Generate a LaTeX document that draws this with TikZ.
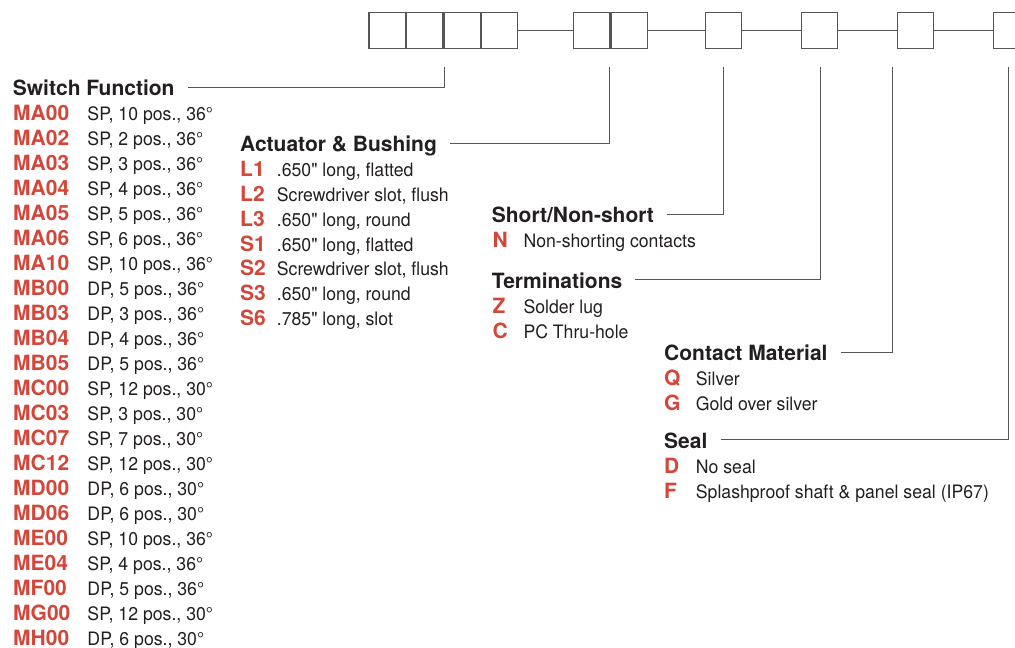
\documentclass[tikz,border=0pt]{standalone}
\usepackage{fontspec}
\setmainfont{TeX Gyre Heros}
\newfontfamily\descfont[FakeStretch=0.955]{TeX Gyre Heros}
\usepackage{tikz}
\usetikzlibrary{calc}
\definecolor{codered}{HTML}{D3473A}
\definecolor{inkgray}{HTML}{231F20}
\definecolor{linegray}{HTML}{555555}

\begin{document}
\begin{tikzpicture}[x=1pt, y=-1pt,
		digit/.style={draw=linegray, line width=1.3pt, minimum width=36.2pt, minimum height=36pt, inner sep=0pt, anchor=west},
		joint/.style={draw=linegray, line width=1.1pt},
		leader/.style={draw=linegray, line width=0.9pt},
		head/.style={anchor=base west, inner sep=0pt, text=inkgray, font=\fontsize{21}{21}\selectfont\bfseries},
		opt/.style={anchor=base west, inner sep=0pt, text=inkgray, font=\fontsize{18.5}{18.5}\descfont}]
			\newcommand{\OptRow}[6]{
				\node (#1) [opt] at (#2,#3) {\makebox[#4][l]{\fontsize{21}{21}\selectfont\rmfamily\bfseries\color{codered}#5}#6};
			}
			\def\Lift{8.5}
			\def\Gap{13}

			\useasboundingbox (0,0) rectangle (1015,648);

			\node (g1a) [digit] at (368.4,30.5) {};
			\node (g1b) [digit] at (g1a.east) {};
			\node (g1c) [digit] at (g1b.east) {};
			\node (g1d) [digit] at (g1c.east) {};
			\node (g2a) [digit] at (573,30.5) {};
			\node (g2b) [digit] at (g2a.east) {};
			\node (b3) [digit] at (704.6,30.5) {};
			\node (b4) [digit] at (800.7,30.5) {};
			\node (b5) [digit] at (896.7,30.5) {};
			\node (b6) [digit] at (992.7,30.5) {};

			\draw[joint] (g1d.east) -- (g2a.west);
			\draw[joint] (g2b.east) -- (b3.west);
			\draw[joint] (b3.east) -- (b4.west);
			\draw[joint] (b4.east) -- (b5.west);
			\draw[joint] (b5.east) -- (b6.west);

			\coordinate (tap1) at ($(g1b.south east) + (0.9,18)$);
			\coordinate (tap2) at ($(g2a.south east) + (-1.2,18)$);
			\coordinate (tap3) at ($(b3.south) + (0.5,18)$);
			\coordinate (tap4) at ($(b4.south) + (0.5,18)$);
			\coordinate (tap5) at ($(b5.south west) + (-4.7,18)$);
			\coordinate (tap6) at ($(b6.south) + (-3,18)$);

			\node (hSwitch) [head] at (12.7,95.7) {Switch Function};
			\node (hAct) [head] at (240,151.7) {Actuator \& Bushing};
			\node (hShort) [head] at (491.7,222.7) {Short/Non-short};
			\node (hTerm) [head] at (491.7,288.3) {Terminations};
			\node (hContact) [head] at (664,360.7) {Contact Material};
			\node (hSeal) [head] at (664,448.3) {Seal};

			\draw[leader] ($(hSwitch.base east) + (\Gap,-\Lift)$) -| (tap1);
			\draw[leader] ($(hAct.base east) + (\Gap,-\Lift)$) -| (tap2);
			\draw[leader] ($(hShort.base east) + (\Gap,-\Lift)$) -| (tap3);
			\draw[leader] ($(hTerm.base east) + (\Gap,-\Lift)$) -| (tap4);
			\draw[leader] ($(hContact.base east) + (\Gap,-\Lift)$) -| (tap5);
			\draw[leader] ($(hSeal.base east) + (\Gap,-\Lift)$) -| (tap6);

			\OptRow{ma00}{13}{120}{74.3pt}{MA00}{SP, 10 pos., 36°}
			\OptRow{ma02}{13}{145}{74.3pt}{MA02}{SP, 2 pos., 36°}
			\OptRow{ma03}{13}{170}{74.3pt}{MA03}{SP, 3 pos., 36°}
			\OptRow{ma04}{13}{195}{74.3pt}{MA04}{SP, 4 pos., 36°}
			\OptRow{ma05}{13}{220}{74.3pt}{MA05}{SP, 5 pos., 36°}
			\OptRow{ma06}{13}{245}{74.3pt}{MA06}{SP, 6 pos., 36°}
			\OptRow{ma10}{13}{270}{74.3pt}{MA10}{SP, 10 pos., 36°}
			\OptRow{mb00}{13}{295}{74.3pt}{MB00}{DP, 5 pos., 36°}
			\OptRow{mb03}{13}{320}{74.3pt}{MB03}{DP, 3 pos., 36°}
			\OptRow{mb04}{13}{345}{74.3pt}{MB04}{DP, 4 pos., 36°}
			\OptRow{mb05}{13}{370}{74.3pt}{MB05}{DP, 5 pos., 36°}
			\OptRow{mc00}{13}{395}{74.3pt}{MC00}{SP, 12 pos., 30°}
			\OptRow{mc03}{13}{420}{74.3pt}{MC03}{SP, 3 pos., 30°}
			\OptRow{mc07}{13}{445}{74.3pt}{MC07}{SP, 7 pos., 30°}
			\OptRow{mc12}{13}{470}{74.3pt}{MC12}{SP, 12 pos., 30°}
			\OptRow{md00}{13}{495}{74.3pt}{MD00}{DP, 6 pos., 30°}
			\OptRow{md06}{13}{520}{74.3pt}{MD06}{DP, 6 pos., 30°}
			\OptRow{me00}{13}{545}{74.3pt}{ME00}{SP, 10 pos., 36°}
			\OptRow{me04}{13}{570}{74.3pt}{ME04}{SP, 4 pos., 36°}
			\OptRow{mf00}{13}{595}{74.3pt}{MF00}{DP, 5 pos., 36°}
			\OptRow{mg00}{13}{620}{74.3pt}{MG00}{SP, 12 pos., 30°}
			\OptRow{mh00}{13}{645}{74.3pt}{MH00}{DP, 6 pos., 30°}

			\OptRow{l1}{240}{176.7}{36.7pt}{L1}{.650" long, flatted}
			\OptRow{l2}{240}{201.5}{36.7pt}{L2}{Screwdriver slot, flush}
			\OptRow{l3}{240}{226.2}{36.7pt}{L3}{.650" long, round}
			\OptRow{s1}{240}{251}{36.7pt}{S1}{.650" long, flatted}
			\OptRow{s2}{240}{275.7}{36.7pt}{S2}{Screwdriver slot, flush}
			\OptRow{s3}{240}{300.5}{36.7pt}{S3}{.650" long, round}
			\OptRow{s6}{240}{325.2}{36.7pt}{S6}{.785" long, slot}

			\OptRow{n}{492.5}{247.7}{30.8pt}{N}{Non-shorting contacts}

			\OptRow{z}{492.5}{313.3}{30.8pt}{Z}{Solder lug}
			\OptRow{c}{492.5}{338.3}{30.8pt}{C}{PC Thru-hole}

			\OptRow{q}{664}{385.7}{31.7pt}{Q}{Silver}
			\OptRow{g}{664}{410.7}{31.7pt}{G}{Gold over silver}

			\OptRow{d}{664}{473.3}{31.7pt}{D}{No seal}
			\OptRow{f}{664}{498.3}{31.7pt}{F}{Splashproof shaft \& panel seal (IP67)}
		\end{tikzpicture}
\end{document}
